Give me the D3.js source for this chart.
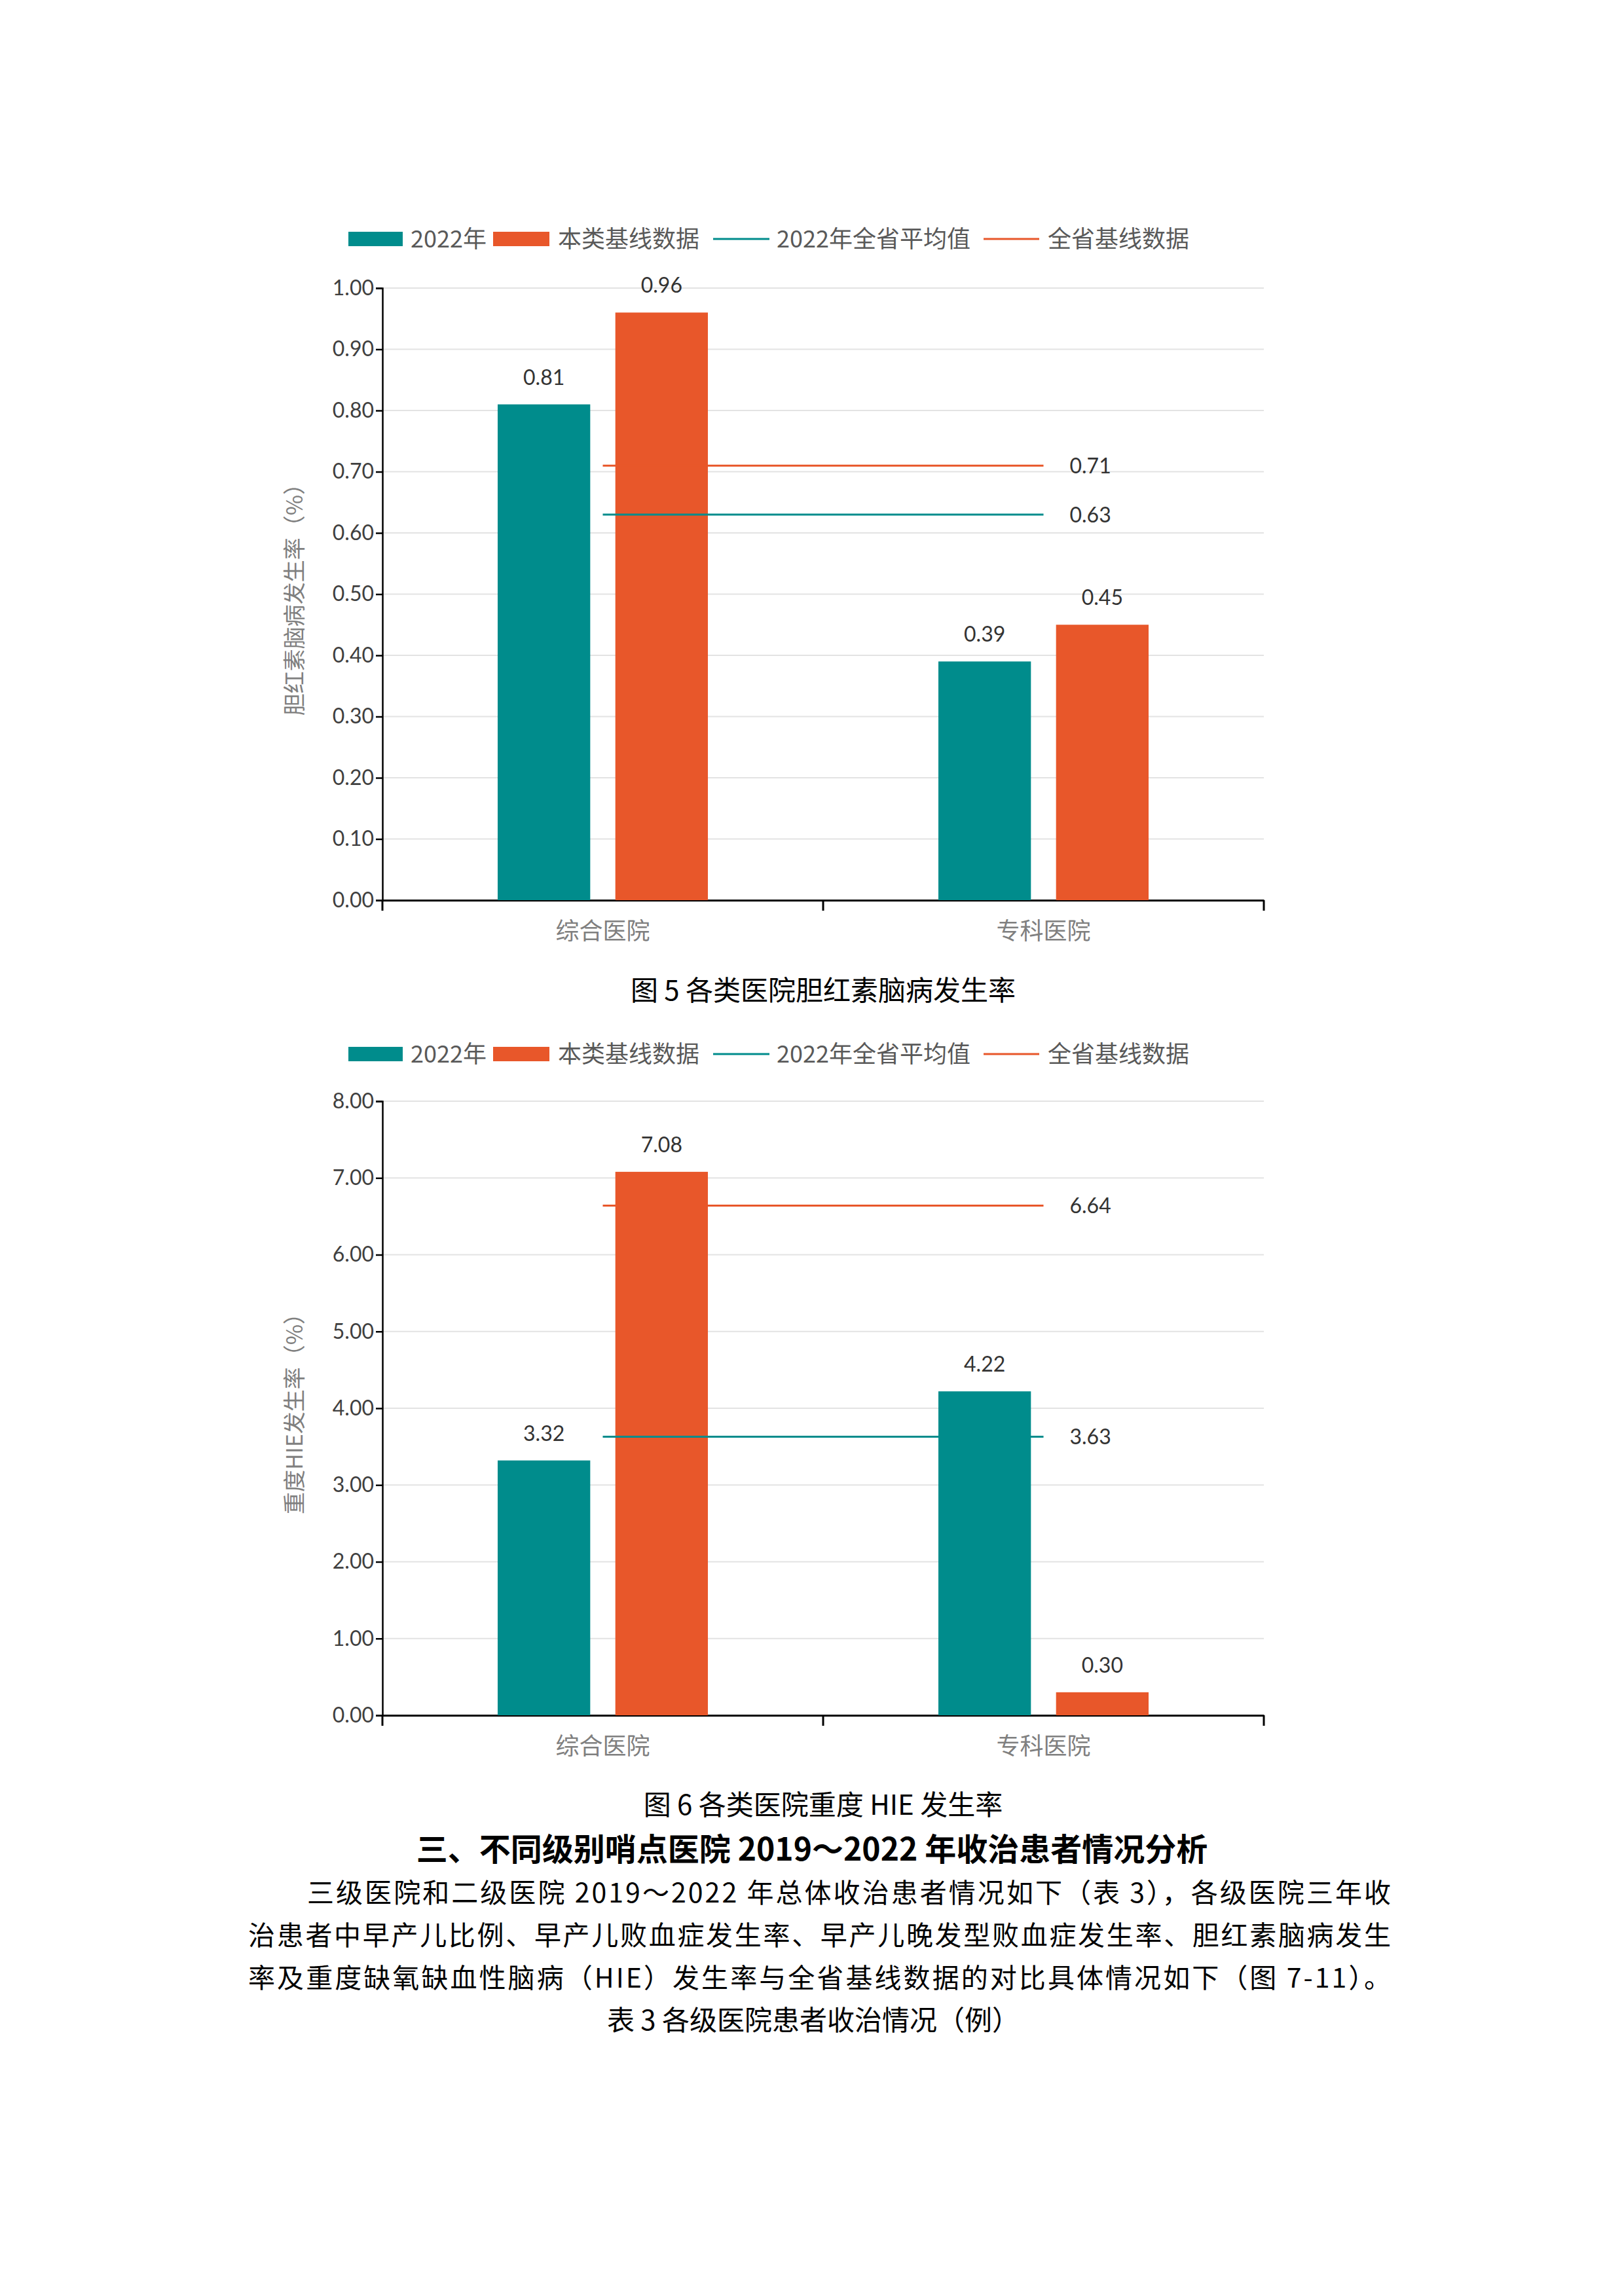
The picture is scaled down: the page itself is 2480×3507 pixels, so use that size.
<!DOCTYPE html>
<html><head><meta charset="utf-8">
<script src="https://cdn.jsdelivr.net/npm/d3@7"></script>
<style>body{margin:0;background:#fff}</style></head>
<body><script>
const categories = ["综合医院","专科医院"];
const seriesNames = ["2022年","本类基线数据","2022年全省平均值","全省基线数据"];
const c1_2022 = [0.81,0.39], c1_base = [0.96,0.45], c1_avg = 0.63, c1_prov = 0.71;
const c1_ticks = [0,0.1,0.2,0.3,0.4,0.5,0.6,0.7,0.8,0.9,1.0];
const c2_2022 = [3.32,4.22], c2_base = [7.08,0.30], c2_avg = 3.63, c2_prov = 6.64;
const c2_ticks = [0,1,2,3,4,5,6,7,8];
const TEAL="#008C8C", ORANGE="#E8572A";
const W=2480,H=3507;
const svg=d3.select("body").append("svg").attr("width",W).attr("height",H);
const sans="Lato, 'Noto Sans CJK SC', sans-serif";
const cjk="'Noto Sans CJK SC', sans-serif";

function chart(o){
  const g=svg.append("g");
  const x=d3.scaleBand().domain(categories).range([584,1930]);
  const y=d3.scaleLinear().domain([0,o.max]).range([o.y0,o.y1]);
  // legend
  const ly=o.ly;
  g.append("rect").attr("x",532).attr("y",ly-11).attr("width",83).attr("height",22).attr("fill",TEAL);
  g.append("rect").attr("x",753).attr("y",ly-11).attr("width",86).attr("height",22).attr("fill",ORANGE);
  g.append("line").attr("x1",1089).attr("x2",1175).attr("y1",ly).attr("y2",ly).attr("stroke",TEAL).attr("stroke-width",3);
  g.append("line").attr("x1",1502).attr("x2",1587).attr("y1",ly).attr("y2",ly).attr("stroke",ORANGE).attr("stroke-width",3);
  [[627,0],[852,1],[1186,2],[1600,3]].forEach(([lx,i])=>g.append("text").attr("x",lx).attr("y",ly+13).attr("font-size",36).attr("fill","#595959").attr("font-family",cjk).text(seriesNames[i]));
  // grid
  g.selectAll(".gr").data(o.ticks.slice(1)).enter().append("line").attr("x1",584).attr("x2",1930).attr("y1",d=>y(d)).attr("y2",d=>y(d)).attr("stroke","#e3e3e3").attr("stroke-width",2);
  const ya=g.append("g").attr("transform","translate(584,0)").call(d3.axisLeft(y).tickValues(o.ticks).tickFormat(d3.format(".2f")).tickSize(10));
  ya.selectAll("text").attr("font-size",32).attr("fill","#404040").attr("font-family",sans);
  ya.selectAll("path,line").attr("stroke","#000").attr("stroke-width",2.5);
  const xa=g.append("g").attr("transform",`translate(0,${o.y0})`).call(d3.axisBottom(x).tickSize(0).tickFormat(""));
  xa.select("path").attr("stroke","#000").attr("stroke-width",3);
  [584,1257,1930].forEach(t=>g.append("line").attr("x1",t).attr("x2",t).attr("y1",o.y0).attr("y2",o.y0+16).attr("stroke","#000").attr("stroke-width",3));
  const bw=x.bandwidth()*0.21, gap=x.bandwidth()*0.057;
  const bars=[[o.a,TEAL,-1],[o.b,ORANGE,1]];
  bars.forEach(([vals,col,s])=>{
    categories.forEach((c,i)=>{
      const cx=x(c)+x.bandwidth()/2;
      const bx= s<0? cx-gap/2-bw : cx+gap/2;
      g.append("rect").attr("x",bx).attr("y",y(vals[i])).attr("width",bw).attr("height",o.y0-y(vals[i])).attr("fill",col);
      g.append("text").attr("x",bx+bw/2).attr("y",y(vals[i])-30).attr("text-anchor","middle").attr("font-size",32).attr("fill","#333").attr("font-family",sans).text(vals[i].toFixed(2));
    });
  });
  const c0=x(categories[0])+x.bandwidth()/2, c1=x(categories[1])+x.bandwidth()/2;
  [[o.prov,ORANGE],[o.avg,TEAL]].forEach(([v,col])=>{
    g.append("line").attr("x1",c0).attr("x2",c1).attr("y1",y(v)).attr("y2",y(v)).attr("stroke",col).attr("stroke-width",3);
    g.append("text").attr("x",c1+40).attr("y",y(v)+12).attr("font-size",32).attr("fill","#333").attr("font-family",sans).text(v.toFixed(2));
  });
  categories.forEach(c=>g.append("text").attr("x",x(c)+x.bandwidth()/2).attr("y",o.y0+60).attr("text-anchor","middle").attr("font-size",36).attr("fill","#7f7f7f").attr("font-family",cjk).text(c));
  g.append("text").attr("transform",`translate(462,${(o.y0+o.y1)/2}) rotate(-90)`).attr("text-anchor","middle").attr("font-size",34).attr("fill","#7f7f7f").attr("font-family",cjk).text(o.ylabel);
  g.append("text").attr("x",1257).attr("y",o.cap).attr("text-anchor","middle").attr("font-size",42).attr("fill","#000").attr("font-family",cjk).text(o.caption);
}
chart({a:c1_2022,b:c1_base,avg:c1_avg,prov:c1_prov,ticks:c1_ticks,max:1,y0:1375,y1:440,ly:365,ylabel:"胆红素脑病发生率（%）",caption:"图 5  各类医院胆红素脑病发生率",cap:1528});
chart({a:c2_2022,b:c2_base,avg:c2_avg,prov:c2_prov,ticks:c2_ticks,max:8,y0:2620,y1:1682,ly:1610,ylabel:"重度HIE发生率（%）",caption:"图 6  各类医院重度 HIE 发生率",cap:2772});
const t=svg.append("g").attr("font-family",cjk).attr("fill","#000");
t.append("text").attr("x",1240).attr("y",2842).attr("text-anchor","middle").attr("font-size",48).attr("font-weight","bold").text("三、不同级别哨点医院 2019～2022 年收治患者情况分析");
const lines=[[469,2124,2906,"三级医院和二级医院 2019～2022 年总体收治患者情况如下（表 3），各级医院三年收"],
[379,2124,2971,"治患者中早产儿比例、早产儿败血症发生率、早产儿晚发型败血症发生率、胆红素脑病发生"],
[379,2124,3036,"率及重度缺氧缺血性脑病（HIE）发生率与全省基线数据的对比具体情况如下（图 7-11）。"]];
lines.forEach(([a,b,yy,s])=>t.append("text").attr("x",a).attr("y",yy).attr("font-size",41).attr("textLength",b-a).attr("lengthAdjust","spacing").text(s));
t.append("text").attr("x",1242).attr("y",3101).attr("text-anchor","middle").attr("font-size",42).text("表 3  各级医院患者收治情况（例）");
</script></body></html>
